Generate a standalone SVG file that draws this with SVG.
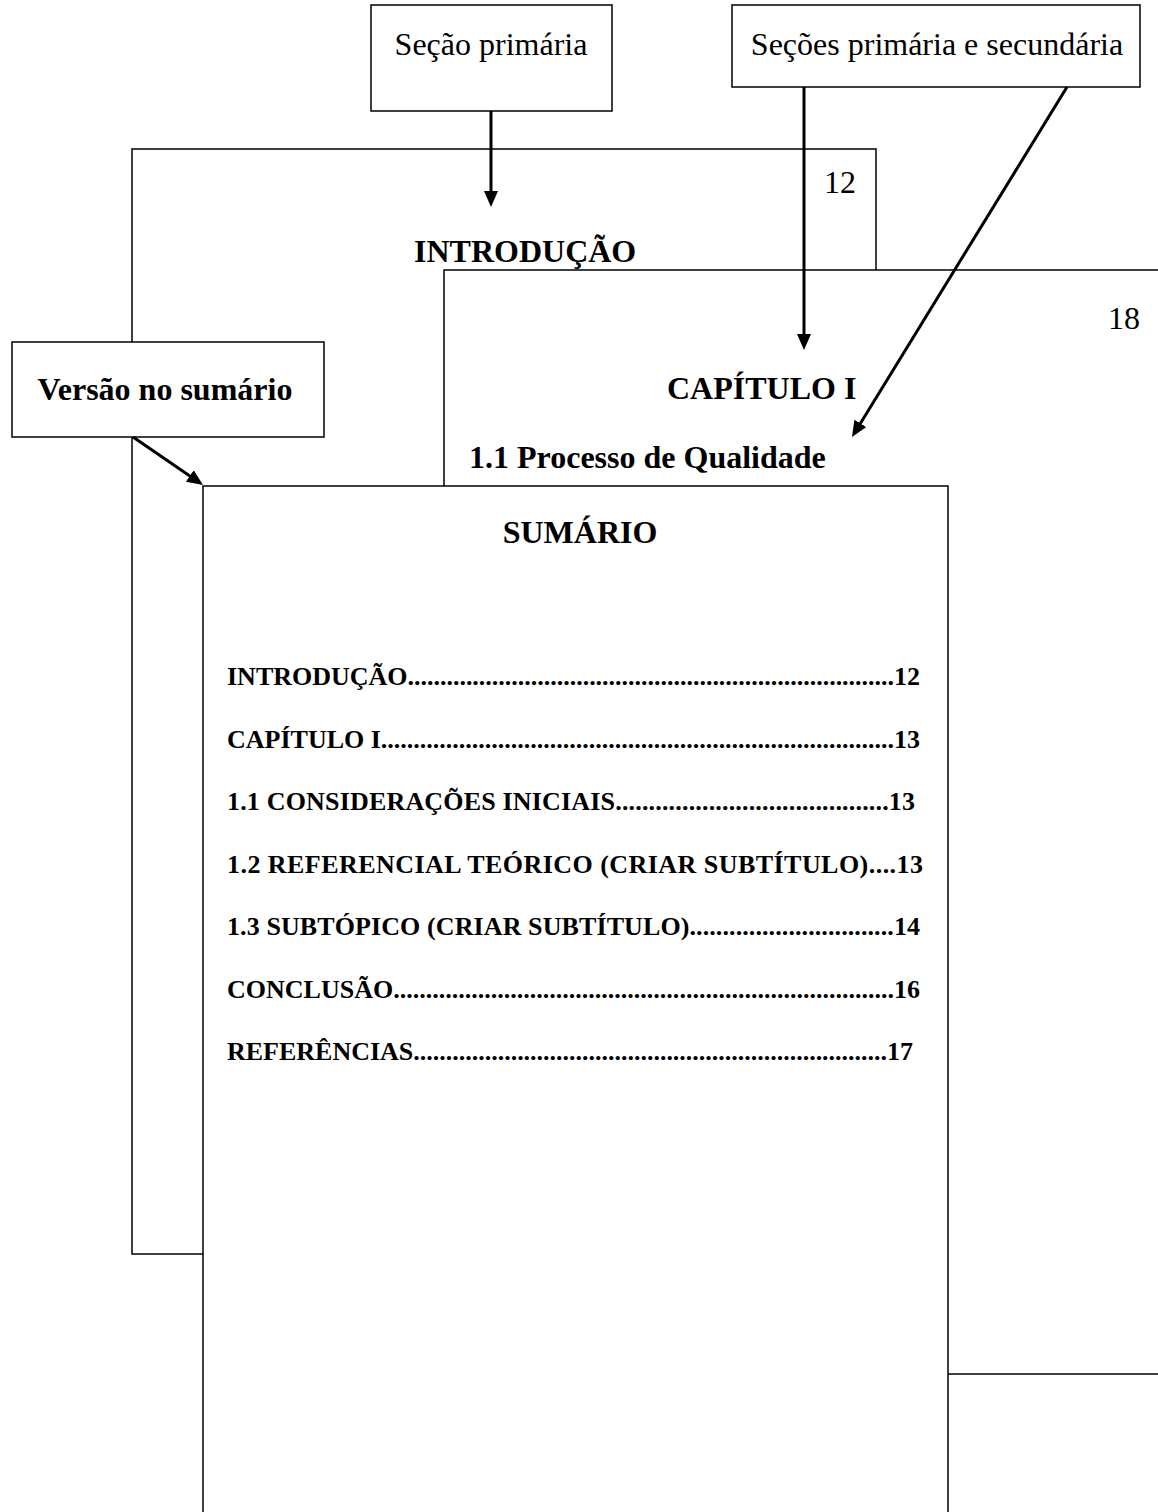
<svg xmlns="http://www.w3.org/2000/svg" width="1158" height="1512" viewBox="0 0 1158 1512">
<style>
.pg{fill:#fff;stroke:#000;stroke-width:1.5}
.bx{fill:#fff;stroke:#000;stroke-width:1.5}
.t{font-family:"Liberation Serif","Times New Roman",serif;fill:#000}
.b{font-weight:bold}
.s32{font-size:32px}
.s26{font-size:26px}
.arr{stroke:#000;stroke-width:3;fill:none;marker-end:url(#ah)}
</style>
<defs>
<marker id="ah" markerUnits="userSpaceOnUse" markerWidth="16" markerHeight="14" refX="8" refY="7" orient="auto">
<path d="M0,0 L16,7 L0,14 z" fill="#000"/>
</marker>
</defs>
<rect width="1158" height="1512" fill="#fff"/>

<g id="page-introducao">
<rect class="pg" x="132" y="149" width="744" height="1105"/>
<text class="t s32" x="824" y="193">12</text>
<text class="t b s32" x="414" y="262">INTRODUÇÃO</text>
</g>

<g id="page-capitulo">
<rect class="pg" x="444" y="270" width="760" height="1104"/>
<text class="t s32" x="1108" y="329">18</text>
<text class="t b s32" x="667" y="399">CAPÍTULO I</text>
<text class="t b s32" x="469" y="468">1.1 Processo de Qualidade</text>
</g>

<g id="page-sumario">
<rect class="pg" x="203" y="486" width="745" height="1100"/>
<text class="t b s32" x="580" y="543" text-anchor="middle">SUMÁRIO</text>
<text class="t b s26" x="227" y="685" textLength="693">INTRODUÇÃO...........................................................................12</text>
<text class="t b s26" x="227" y="748" textLength="693">CAPÍTULO I...............................................................................13</text>
<text class="t b s26" x="227" y="810" textLength="688">1.1 CONSIDERAÇÕES INICIAIS.........................................13</text>
<text class="t b s26" x="227" y="873" textLength="696">1.2 REFERENCIAL TEÓRICO (CRIAR SUBTÍTULO)....13</text>
<text class="t b s26" x="227" y="935" textLength="693">1.3 SUBTÓPICO (CRIAR SUBTÍTULO)...............................14</text>
<text class="t b s26" x="227" y="998" textLength="693">CONCLUSÃO.............................................................................16</text>
<text class="t b s26" x="227" y="1060" textLength="686">REFERÊNCIAS.........................................................................17</text>
</g>

<g id="box-secao-primaria">
<rect class="bx" x="371" y="5" width="241" height="106"/>
<text class="t s32" x="491" y="55" text-anchor="middle">Seção primária</text>
</g>

<g id="box-secoes">
<rect class="bx" x="732" y="5" width="408" height="82"/>
<text class="t s32" x="937" y="55" text-anchor="middle">Seções primária e secundária</text>
</g>

<g id="box-versao">
<rect class="bx" x="12" y="342" width="312" height="95"/>
<text class="t b s32" x="165" y="400" text-anchor="middle">Versão no sumário</text>
</g>

<g id="connectors">
<line class="arr" x1="491" y1="111" x2="491" y2="199"/>
<line class="arr" x1="804" y1="87" x2="804" y2="342"/>
<line class="arr" x1="1067" y1="87" x2="856.2" y2="430.2"/>
<line class="arr" x1="133" y1="437" x2="196.4" y2="480.5"/>
</g>
</svg>
